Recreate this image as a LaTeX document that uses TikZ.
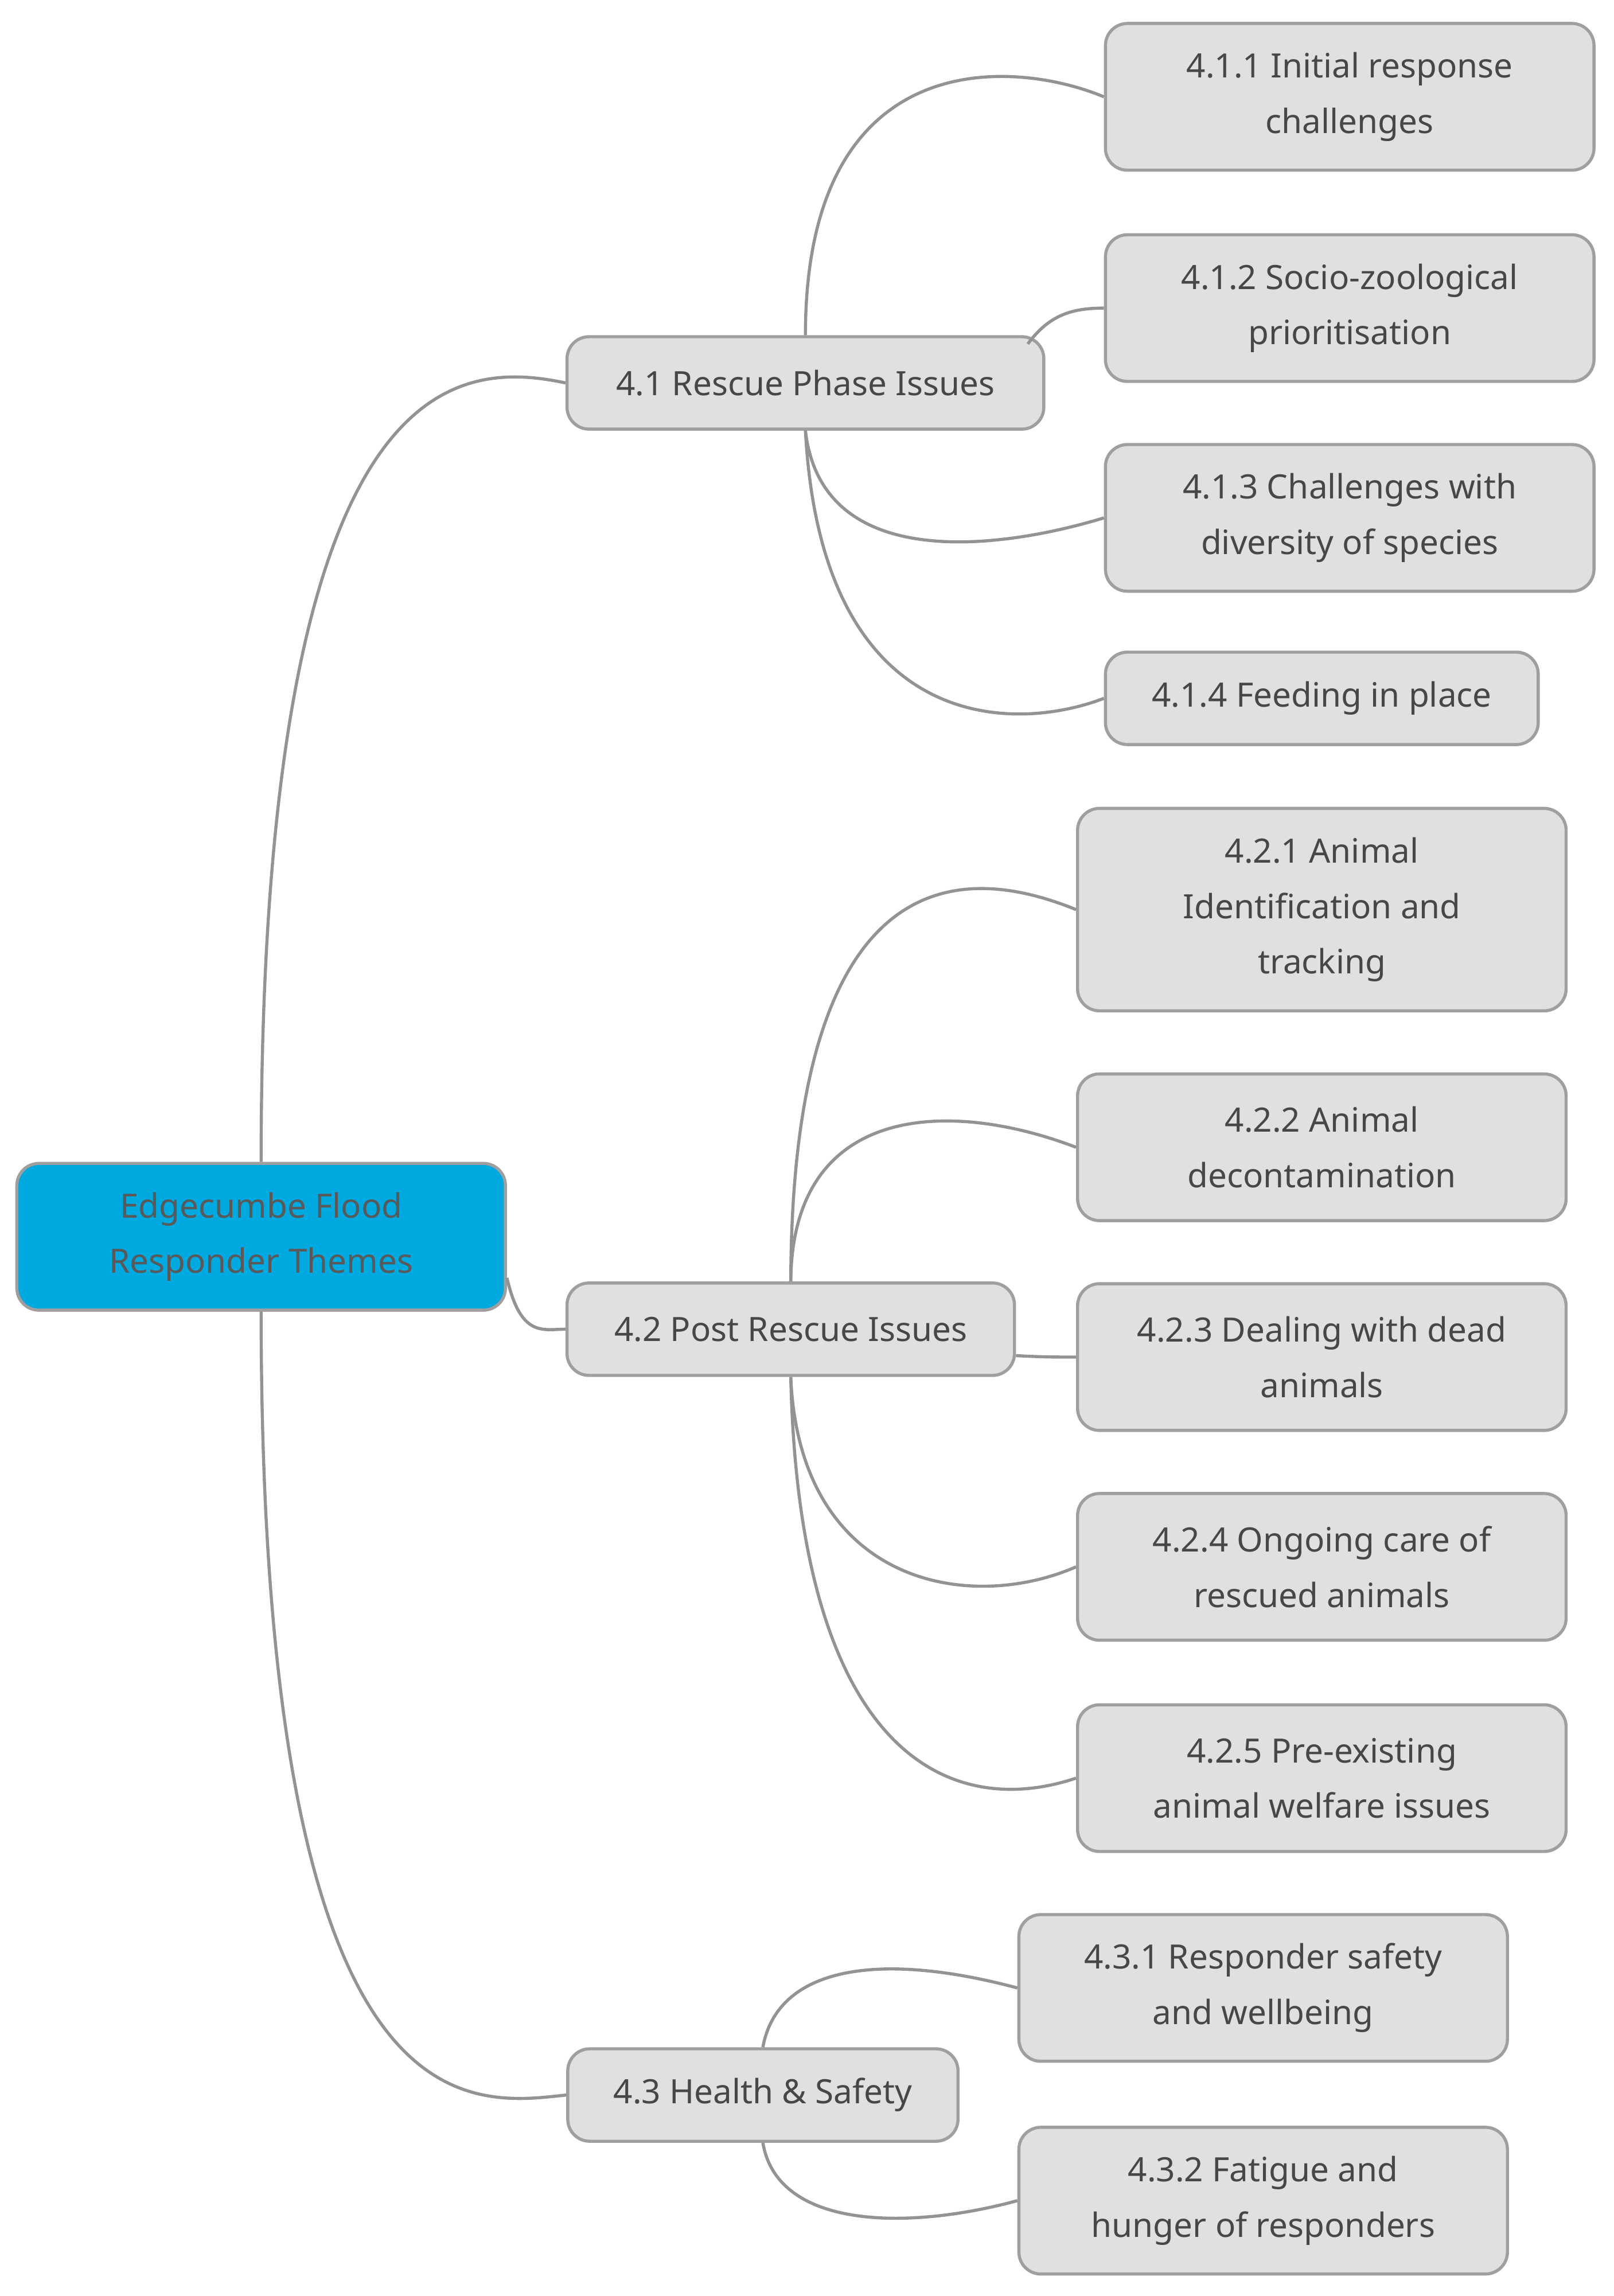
\documentclass[tikz,border=0pt]{standalone}
\usepackage{fontspec}
\setmainfont{Noto Sans}
\begin{document}
\begin{tikzpicture}[x=0.02cm,y=-0.02cm,
  box/.style={draw=gray!75, line width=1.2pt, fill=black!12, rounded corners=0.3cm, align=center,
    text=black!72, font=\bfseries\fontsize{13}{21.5}\selectfont, inner sep=0pt},
  root/.style={box, fill=cyan!60!blue!70!green!60, fill={rgb,255:red,0;green,169;blue,224}, text=black!65},
  w/.style={minimum width=#1*0.02cm},
  h/.style={minimum height=#1*0.02cm},
  link/.style={draw=gray!85, line width=1.2pt}]
\useasboundingbox (0,0) rectangle (1100,1565);
\node[root,w=333,h=100] (r) at (178,843) {Edgecumbe Flood\\Responder Themes};
\node[box,w=325,h=63] (a) at (549,261) {4.1 Rescue Phase Issues};
\node[box,w=333,h=100] (a1) at (920,66) {4.1.1 Initial response\\challenges};
\node[box,w=333,h=100] (a2) at (920,210) {4.1.2 Socio-zoological\\prioritisation};
\node[box,w=333,h=100] (a3) at (920,353) {4.1.3 Challenges with\\diversity of species};
\node[box,w=295,h=63] (a4) at (901,476) {4.1.4 Feeding in place};
\node[box,w=305,h=63] (b) at (539,906) {4.2 Post Rescue Issues};
\node[box,w=333,h=138] (b1) at (901,620) {4.2.1 Animal\\Identification and\\tracking};
\node[box,w=333,h=100] (b2) at (901,782) {4.2.2 Animal\\decontamination};
\node[box,w=333,h=100] (b3) at (901,925) {4.2.3 Dealing with dead\\animals};
\node[box,w=333,h=100] (b4) at (901,1068) {4.2.4 Ongoing care of\\rescued animals};
\node[box,w=333,h=100] (b5) at (901,1212) {4.2.5 Pre-existing\\animal welfare issues};
\node[box,w=266,h=63] (c) at (520,1428) {4.3 Health \& Safety};
\node[box,w=333,h=100] (c1) at (861,1355) {4.3.1 Responder safety\\and wellbeing};
\node[box,w=333,h=100] (c2) at (861,1500) {4.3.2 Fatigue and\\hunger of responders};
\begin{scope}[on background layer/.try]
\path[link] (r.north) .. controls (178,250) and (310,245) .. (a.west);
\path[link] (r.east) ++(0,28) .. controls (355,912) and (370,906) .. (b.west);
\path[link] (r.south) .. controls (178,1460) and (320,1435) .. (c.west);
\path[link] (a.north) .. controls (549,30) and (690,40) .. (a1.west);
\path[link] (a.north east) ++(-12,6) .. controls (715,215) and (730,210) .. (a2.west);
\path[link] (a.south) .. controls (560,390) and (680,375) .. (a3.west);
\path[link] (a.south) .. controls (560,500) and (690,500) .. (a4.west);
\path[link] (b.north) .. controls (540,580) and (660,590) .. (b1.west);
\path[link] (b.north) .. controls (540,750) and (650,750) .. (b2.west);
\path[link] (b.east) ++(0,18) .. controls (710,925) and (720,925) .. (b3.west);
\path[link] (b.south) .. controls (545,1080) and (660,1100) .. (b4.west);
\path[link] (b.south) .. controls (545,1200) and (650,1240) .. (b5.west);
\path[link] (c.north) .. controls (530,1340) and (600,1330) .. (c1.west);
\path[link] (c.south) .. controls (530,1520) and (620,1520) .. (c2.west);
\end{scope}
\end{tikzpicture}
\end{document}
